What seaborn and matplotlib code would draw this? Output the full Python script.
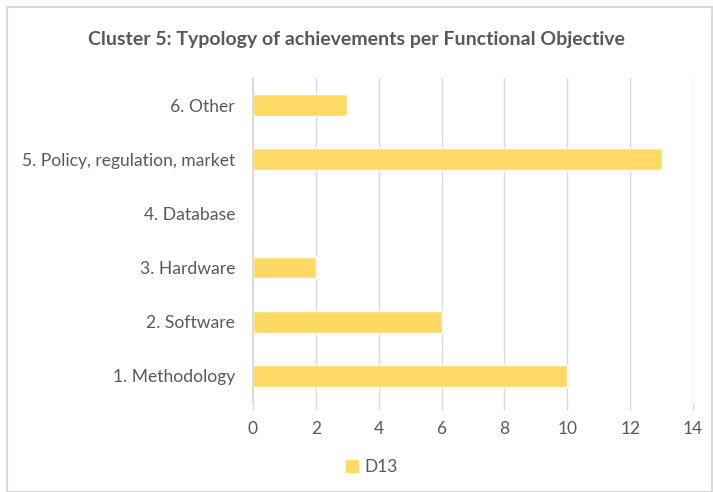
import matplotlib
matplotlib.use("Agg")
import matplotlib.pyplot as plt
import matplotlib.patches as mpatches
import seaborn as sns
import pandas as pd

categories = ["6. Other", "5. Policy, regulation, market", "4. Database",
              "3. Hardware", "2. Software", "1. Methodology"]
values = [3, 13, 0, 2, 6, 10]
series_name = "D13"
x_ticks = [0, 2, 4, 6, 8, 10, 12, 14]

df = pd.DataFrame({"category": categories, "value": values, "series": series_name})

sns.set_theme(style="white")
plt.rcParams["font.family"] = ["Lato", "DejaVu Sans"]

text_color = "#595959"
grid_color = "#D9D9D9"
bar_color = "#FFD966"

fig = plt.figure(figsize=(7.13, 4.92), dpi=100)
ax = fig.add_axes([253 / 713, 1 - 403 / 492, 440 / 713, 325 / 492])

sns.barplot(data=df, x="value", y="category", hue="series", palette=[bar_color],
            orient="h", width=0.4, ax=ax, saturation=1)

ax.set_xlim(0, 14)
ax.set_xticks(x_ticks)
ax.set_xticklabels([str(t) for t in x_ticks])
ax.set_xlabel("")
ax.set_ylabel("")
ax.grid(axis="x", color=grid_color, linewidth=1)
ax.set_axisbelow(True)
for side in ["top", "right", "bottom"]:
    ax.spines[side].set_visible(False)
ax.spines["left"].set_color(grid_color)
ax.tick_params(axis="x", colors=grid_color, length=5, width=1, labelcolor=text_color,
               labelsize=12.5, pad=8, bottom=True)
ax.tick_params(axis="y", length=0, labelcolor=text_color, labelsize=12.6, pad=13)

ax.get_legend().remove()
handle = mpatches.Patch(color=bar_color, label=series_name)
fig.legend(handles=[handle], loc="center", bbox_to_anchor=(372 / 713, 1 - 467 / 492),
           frameon=False, fontsize=12.5, handlelength=0.7, handleheight=0.7,
           handletextpad=0.35, labelcolor=text_color)

fig.text(0.5, 1 - 40 / 492, "Cluster 5: Typology of achievements per Functional Objective",
         ha="center", va="center", fontsize=14, fontweight="bold", color=text_color)

fig.patches.append(mpatches.Rectangle((7 / 713, 0), 1 - 7 / 713 - 1 / 713, 1 - 7 / 492,
                                      transform=fig.transFigure, fill=False,
                                      edgecolor=grid_color, linewidth=1.5))

fig.savefig("out.png", dpi=100)
